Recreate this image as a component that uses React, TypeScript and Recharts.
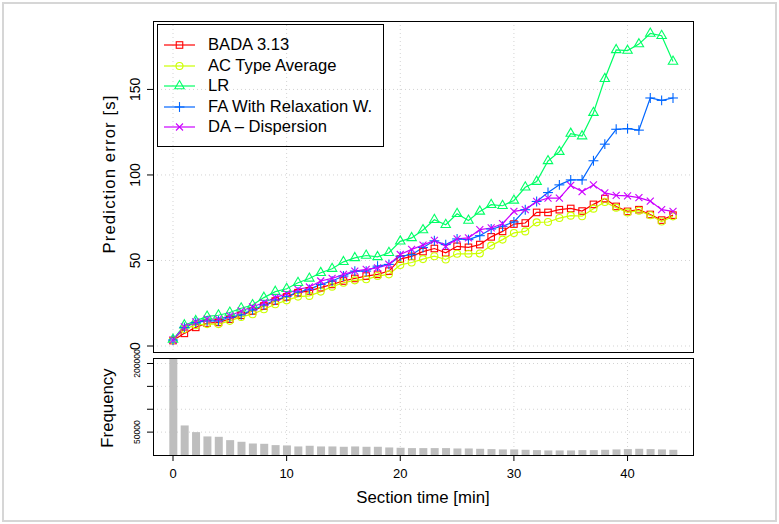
import React from 'react';
import { ComposedChart, Line, Bar, XAxis, YAxis, CartesianGrid } from 'recharts';

// section time in minutes
const sectionTime = [
  0, 1, 2, 3, 4, 5, 6, 7, 8, 9, 10, 11, 12, 13, 14, 15, 16, 17, 18, 19, 20, 21, 22,
  23, 24, 25, 26, 27, 28, 29, 30, 31, 32, 33, 34, 35, 36, 37, 38, 39, 40, 41, 42, 43, 44,
];

// mean prediction error [s] per model
const bada = [
  3.2, 7.4, 10.9, 13.4, 13.8, 15.7, 18.0, 20.5, 23.4, 26.3, 28.7, 31.2, 32.2, 34.1, 36.0,
  38.0, 39.5, 40.9, 41.9, 43.8, 50.8, 52.4, 55.2, 57.0, 54.5, 58.3, 57.7, 59.3, 63.8, 67.0,
  71.3, 71.9, 78.1, 78.1, 79.7, 80.4, 78.9, 82.8, 86.2, 81.6, 78.7, 79.7, 76.9, 73.6, 76.5,
];
const acTypeAverage = [
  3.5, 9.9, 12.2, 12.8, 12.8, 14.7, 17.0, 18.6, 21.5, 24.4, 26.7, 28.9, 29.3, 31.8, 34.7,
  37.0, 38.4, 39.0, 40.9, 41.9, 47.4, 48.8, 50.8, 52.5, 50.6, 53.9, 53.9, 54.1, 58.7, 62.2,
  66.1, 67.0, 72.3, 72.5, 74.8, 76.2, 75.9, 80.3, 84.2, 80.9, 78.1, 79.1, 76.4, 72.8, 75.8,
];
const lr = [
  3.8, 12.2, 14.7, 17.3, 18.0, 19.6, 22.1, 24.0, 28.3, 31.8, 33.5, 37.0, 39.5, 42.8, 45.2,
  49.2, 51.5, 52.9, 52.1, 54.5, 61.2, 63.2, 67.8, 73.8, 70.9, 77.3, 73.4, 78.7, 82.6, 82.0,
  85.1, 92.8, 96.1, 108.2, 113.6, 124.2, 122.7, 136.4, 156.2, 173.1, 172.7, 176.5, 182.7, 181.4, 166.3,
];
const faRelaxation = [
  3.5, 10.9, 13.8, 14.7, 14.7, 16.7, 18.2, 21.1, 24.0, 26.9, 28.9, 31.6, 33.1, 36.0, 38.0,
  40.9, 43.8, 43.8, 46.7, 47.7, 52.5, 53.4, 57.6, 61.5, 59.3, 62.6, 62.2, 64.5, 68.4, 70.0,
  72.5, 79.7, 84.5, 89.7, 94.2, 97.1, 97.1, 108.3, 118.0, 126.7, 127.1, 126.2, 145.0, 143.6, 145.0,
];
const daDispersion = [
  3.5, 11.2, 14.1, 15.7, 15.7, 17.6, 20.5, 22.9, 25.4, 28.3, 30.6, 33.1, 34.5, 38.0, 39.5,
  41.9, 43.8, 44.8, 45.7, 47.7, 53.5, 56.5, 59.0, 61.8, 58.3, 62.6, 63.2, 68.0, 69.0, 71.5,
  78.7, 79.7, 84.5, 86.4, 86.4, 93.9, 90.3, 94.2, 89.5, 88.1, 87.8, 86.7, 84.7, 79.7, 78.7,
];

// number of sections observed per section time
const frequency = [
  212000, 64600, 50000, 40600, 39800, 32500, 28900, 25300, 24500, 21600, 20900, 18700, 20200,
  18700, 18700, 18000, 18700, 18000, 18000, 16500, 15800, 15100, 15100, 15100, 15100, 14300,
  14300, 13600, 12900, 12200, 12200, 11400, 10700, 10000, 10000, 10000, 10700, 10700, 11400,
  12200, 12900, 13600, 12900, 12200, 11400,
];

const xTicks = [0, 10, 20, 30, 40];
const errorTicks = [0, 50, 100, 150];
const freqTicks = [50000, 100000, 150000, 200000];
const freqLabels = [50000, 200000];

type Shape = 'square' | 'circle' | 'triangle' | 'plus' | 'cross';

const SERIES: { key: string; name: string; color: string; shape: Shape; values: number[] }[] = [
  { key: 'bada', name: 'BADA 3.13', color: '#FF0000', shape: 'square', values: bada },
  { key: 'ac', name: 'AC Type Average', color: '#CCFF00', shape: 'circle', values: acTypeAverage },
  { key: 'lr', name: 'LR', color: '#00FF66', shape: 'triangle', values: lr },
  { key: 'fa', name: 'FA With Relaxation W.', color: '#0066FF', shape: 'plus', values: faRelaxation },
  { key: 'da', name: 'DA \u2013 Dispersion', color: '#CC00FF', shape: 'cross', values: daDispersion },
];

const errorRows = sectionTime.map((t, i) => {
  const row: Record<string, number> = { t };
  SERIES.forEach((s) => (row[s.key] = s.values[i]));
  return row;
});
const freqRows = sectionTime.map((t, i) => ({ t, n: frequency[i] }));

const W = 779;
const H = 524;
const PLOT_L = 153;
const PLOT_R = 693;
const UP_T = 21;
const UP_B = 352;
const LO_T = 358;
const LO_B = 455;
const Y_AXIS_W = 40;
const X_DOMAIN: [number, number] = [-1.76, 45.76];
const FONT = '"Liberation Sans", Arial, Helvetica, sans-serif';
const R = 3.5; // base symbol radius

function Marker({ shape, x, y, color }: { shape: Shape; x: number; y: number; color: string }) {
  const sw = 1.1;
  switch (shape) {
    case 'square': {
      const h = R * 0.886 * 1.05;
      return <rect x={x - h} y={y - h} width={2 * h} height={2 * h} fill="none" stroke={color} strokeWidth={sw} />;
    }
    case 'circle':
      return <circle cx={x} cy={y} r={R} fill="none" stroke={color} strokeWidth={sw} />;
    case 'triangle': {
      const r = R * 1.555;
      const xc = r * 0.866;
      const yc = r / 2;
      return (
        <polygon
          points={`${x},${y - r} ${x + xc},${y + yc} ${x - xc},${y + yc}`}
          fill="none"
          stroke={color}
          strokeWidth={sw}
        />
      );
    }
    case 'plus': {
      const c = R * 1.414;
      return (
        <g stroke={color} strokeWidth={sw}>
          <line x1={x - c} y1={y} x2={x + c} y2={y} />
          <line x1={x} y1={y - c} x2={x} y2={y + c} />
        </g>
      );
    }
    default: {
      const c = R;
      return (
        <g stroke={color} strokeWidth={sw}>
          <line x1={x - c} y1={y - c} x2={x + c} y2={y + c} />
          <line x1={x - c} y1={y + c} x2={x + c} y2={y - c} />
        </g>
      );
    }
  }
}

function makeDot(shape: Shape, color: string) {
  return (props: any) => {
    const { cx, cy, index } = props;
    if (cx == null || cy == null) return <g key={`d-${index}`} />;
    return (
      <g key={`d-${index}`}>
        <Marker shape={shape} x={cx} y={cy} color={color} />
      </g>
    );
  };
}

// vertical tick label, reading bottom to top
function RotTick(props: any) {
  const { x, y, payload, size, only } = props;
  if (only && !only.includes(payload.value)) return <g />;
  return (
    <text
      x={x}
      y={y}
      transform={`rotate(-90 ${x} ${y})`}
      textAnchor="middle"
      fontSize={size}
      fontFamily={FONT}
      fill="#000"
    >
      {payload.value}
    </text>
  );
}

function LegendBox() {
  return (
    <div
      style={{
        position: 'absolute',
        left: 157,
        top: 24,
        width: 227,
        height: 123,
        border: '1px solid #000',
        boxSizing: 'border-box',
        fontFamily: FONT,
        fontSize: 16.6,
      }}
    >
      {SERIES.map((s, i) => (
        <div key={s.key} style={{ position: 'absolute', left: 0, top: 10 + i * 20.5, height: 20, width: 225 }}>
          <svg width={40} height={20} style={{ position: 'absolute', left: 5, top: 0 }}>
            <line x1={1} y1={10} x2={32} y2={10} stroke={s.color} strokeWidth={1.2} />
            <Marker shape={s.shape} x={16.5} y={10} color={s.color} />
          </svg>
          <span style={{ position: 'absolute', left: 50, top: 0, lineHeight: '20px', whiteSpace: 'nowrap' }}>
            {s.name}
          </span>
        </div>
      ))}
    </div>
  );
}

const boxStyle = (top: number, bottom: number): React.CSSProperties => ({
  position: 'absolute',
  left: PLOT_L,
  top,
  width: PLOT_R - PLOT_L + 1,
  height: bottom - top + 1,
  border: '1px solid #000',
  boxSizing: 'border-box',
  pointerEvents: 'none',
});

const titleStyle = (cx: number, cy: number, rotate: boolean, spacing = 0): React.CSSProperties => ({
  position: 'absolute',
  left: cx,
  top: cy,
  transform: `translate(-50%, -50%)${rotate ? ' rotate(-90deg)' : ''}`,
  fontFamily: FONT,
  fontSize: 16.8,
  letterSpacing: spacing,
  whiteSpace: 'nowrap',
  color: '#000',
});

export default function App() {
  return (
    <div style={{ position: 'absolute', left: 0, top: 0, width: W, height: H, background: '#fff', overflow: 'hidden' }}>
      <div
        style={{
          position: 'absolute',
          left: 2,
          top: 2,
          width: W - 4,
          height: H - 4,
          border: '2px solid #d6d6d6',
          boxSizing: 'border-box',
        }}
      />

      {/* prediction error per section time */}
      <div style={{ position: 'absolute', left: 0, top: 0 }}>
        <ComposedChart
          width={W}
          height={H}
          data={errorRows}
          margin={{ top: UP_T, right: W - PLOT_R, bottom: H - UP_B, left: PLOT_L - Y_AXIS_W }}
        >
          <CartesianGrid
            stroke="#d3d3d3"
            strokeDasharray="1 3"
            verticalValues={xTicks}
            horizontalValues={errorTicks}
          />
          <XAxis dataKey="t" type="number" domain={X_DOMAIN} ticks={xTicks} allowDataOverflow hide />
          <YAxis
            type="number"
            domain={[-3.5, 190]}
            ticks={errorTicks}
            interval={0}
            allowDataOverflow
            width={Y_AXIS_W}
            stroke="#000"
            axisLine={false}
            tickSize={6}
            tickMargin={7}
            tick={(p: any) => <RotTick {...p} size={14} />}
          />
          {SERIES.map((s) => (
            <Line
              key={s.key}
              dataKey={s.key}
              name={s.name}
              type="linear"
              stroke={s.color}
              strokeWidth={1.2}
              dot={makeDot(s.shape, s.color)}
              activeDot={false}
              isAnimationActive={false}
            />
          ))}
        </ComposedChart>
      </div>

      {/* frequency histogram */}
      <div style={{ position: 'absolute', left: 0, top: 0 }}>
        <ComposedChart
          width={W}
          height={H}
          data={freqRows}
          margin={{ top: LO_T, right: W - PLOT_R, bottom: H - LO_B - 40, left: PLOT_L - Y_AXIS_W }}
        >
          <CartesianGrid
            stroke="#d3d3d3"
            strokeDasharray="1 3"
            verticalValues={xTicks}
            horizontalValues={freqTicks}
          />
          <XAxis
            dataKey="t"
            type="number"
            domain={X_DOMAIN}
            ticks={xTicks}
            interval={0}
            allowDataOverflow
            height={40}
            stroke="#000"
            axisLine={false}
            tickSize={6}
            tickMargin={8}
            tick={{ fontSize: 13, fill: '#000', fontFamily: FONT }}
          />
          <YAxis
            type="number"
            domain={[0, 212000]}
            ticks={freqTicks}
            interval={0}
            allowDataOverflow
            width={Y_AXIS_W}
            stroke="#000"
            axisLine={false}
            tickSize={6}
            tickMargin={7}
            tick={(p: any) => <RotTick {...p} size={8.5} only={freqLabels} />}
          />
          <Bar dataKey="n" fill="#bebebe" barSize={8} isAnimationActive={false} />
        </ComposedChart>
      </div>

      <div style={boxStyle(UP_T, UP_B)} />
      <div style={boxStyle(LO_T, LO_B)} />
      <LegendBox />

      <div style={titleStyle(110, 174, true, 1.1)}>Prediction error [s]</div>
      <div style={titleStyle(108, 408, true)}>Frequency</div>
      <div style={titleStyle((PLOT_L + PLOT_R) / 2, 498, false)}>Section time [min]</div>
    </div>
  );
}
